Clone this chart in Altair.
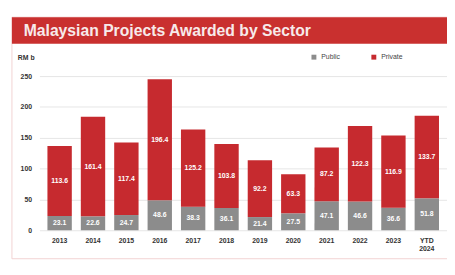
import altair as alt
import pandas as pd

years = ["2013", "2014", "2015", "2016", "2017", "2018", "2019", "2020", "2021", "2022", "2023", "YTD 2024"]
public = [23.1, 22.6, 24.7, 48.6, 38.3, 36.1, 21.4, 27.5, 47.1, 46.6, 36.6, 51.8]
private = [113.6, 161.4, 117.4, 196.4, 125.2, 103.8, 92.2, 63.3, 87.2, 122.3, 116.9, 133.7]
sectors = ["Public", "Private"]
colors = ["#8c8c8c", "#c62a2f"]
y_ticks = [0, 50, 100, 150, 200, 250]
title_text = "Malaysian Projects Awarded by Sector"
unit_text = "RM b"

rows = []
for i, y in enumerate(years):
    rows.append({"year": y, "sector": "Public", "value": public[i], "ord": 0})
    rows.append({"year": y, "sector": "Private", "value": private[i], "ord": 1})
df = pd.DataFrame(rows)

W, H = 415, 157
FONT = "Liberation Sans"

xscale = alt.Scale(paddingInner=0.27, paddingOuter=0.24)
yscale = alt.Scale(domain=[0, 250])
xaxis = alt.Axis(title=None, labelAngle=0, domain=False, ticks=False,
                 labelFontSize=7, labelFontWeight="bold", labelColor="#333",
                 labelPadding=6, labelExpr="split(datum.label, ' ')",
                 labelLineHeight=9)
yaxis = alt.Axis(title=None, values=y_ticks, domain=False, ticks=False,
                 labelFontSize=7, labelFontWeight="bold", labelColor="#333",
                 labelOverlap=False, labelPadding=8, gridColor="#e6e6e6", gridWidth=1)

base = alt.Chart(df).transform_stack(
    stack="value", groupby=["year"], as_=["v0", "v1"], sort=[alt.SortField("ord")]
).transform_calculate(mid="(datum.v0 + datum.v1) / 2")

bars = base.mark_bar().encode(
    x=alt.X("year:N", sort=years, scale=xscale, axis=xaxis),
    y=alt.Y("v0:Q", scale=yscale, axis=yaxis),
    y2="v1:Q",
    color=alt.Color("sector:N", scale=alt.Scale(domain=sectors, range=colors),
                    legend=alt.Legend(title=None, orient="none", legendX=276, legendY=-23,
                                      direction="horizontal", symbolType="square", symbolSize=25,
                                      labelFontSize=7, labelColor="#444", columnPadding=30,
                                      symbolStrokeWidth=0, labelFont=FONT)),
)

labels = base.mark_text(color="white", fontSize=7, fontWeight="bold", font=FONT).encode(
    x=alt.X("year:N", sort=years, scale=xscale, axis=xaxis),
    y=alt.Y("mid:Q", scale=yscale, axis=yaxis),
    text=alt.Text("value:Q", format=".1f"),
)

one = pd.DataFrame({"t": [title_text], "u": [unit_text]})

frame = alt.Chart(one).mark_rect(fill=None, stroke="#f2d2d2", strokeWidth=1).encode(
    x=alt.value(-28), x2=alt.value(W + 2), y=alt.value(-60), y2=alt.value(H + 29))
banner = alt.Chart(one).mark_rect(color="#c9302f").encode(
    x=alt.value(-28), x2=alt.value(W + 2), y=alt.value(-60), y2=alt.value(-33))
title = alt.Chart(one).mark_text(align="left", baseline="middle", color="#f7eaea",
                                 fontSize=16, fontWeight="bold", font=FONT).encode(
    x=alt.value(-16), y=alt.value(-46), text="t:N")
unit = alt.Chart(one).mark_text(align="left", baseline="middle", color="#333",
                                fontSize=7, fontWeight="bold", font=FONT).encode(
    x=alt.value(-22), y=alt.value(-18), text="u:N")

chart = alt.layer(bars, labels, frame, banner, title, unit).properties(
    width=W, height=H,
    autosize=alt.AutoSizeParams(type="none"),
    padding={"left": 32, "top": 67, "right": 0, "bottom": 30},
).configure_view(stroke=None).configure_axis(labelFont=FONT)

chart.save("out.html", embed_options={"renderer": "svg", "actions": False})
